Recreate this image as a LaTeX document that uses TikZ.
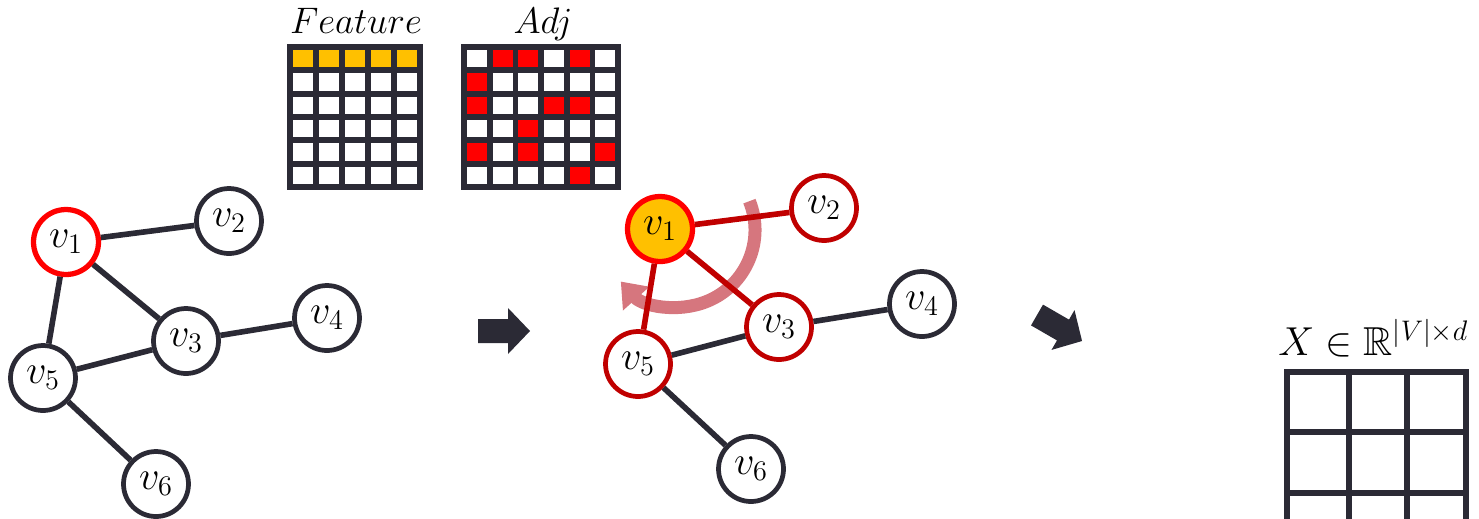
\RequirePackage{fix-cm}
\documentclass[tikz,border=0pt]{standalone}
\usepackage{amssymb}
\usetikzlibrary{arrows.meta}

\definecolor{ink}{RGB}{43,42,53}
\definecolor{hotred}{RGB}{255,0,0}
\definecolor{deepred}{RGB}{192,0,0}
\definecolor{amber}{RGB}{255,192,0}
\definecolor{swirl}{RGB}{214,118,126}

\begin{document}
\begin{tikzpicture}[x=0.02cm, y=-0.02cm,
            vtx/.style = {circle, draw=ink, line width=2.7pt, fill=white,
              minimum size=1.3cm, inner sep=0pt,
              font=\fontsize{23}{23}\selectfont},
            hub/.style = {vtx, draw=hotred, line width=3pt},
            nbr/.style = {vtx, draw=deepred},
            edge/.style = {draw=ink, line width=3.2pt},
            redge/.style = {edge, draw=deepred},
            title/.style = {anchor=base, font=\fontsize{21}{21}\selectfont}]
  \useasboundingbox (0,0) rectangle (1479,518);
  \clip (0,0) rectangle (1479,518);

  % feature matrix
  \node[title] (feat) at (356,33) {$Feature$};
  \fill[ink] (287,44) rectangle (423,190);
  \foreach \i in {0,...,4}
    \foreach \j in {0,...,5}
      \fill[white] ({293+26*\i},{50+23.33*\j}) rectangle +(20,17.3);
  \foreach \i in {0,...,4}
    \fill[amber] ({293+26*\i},50) rectangle +(20,17.3);

  % adjacency matrix
  \node[title] (adj) at (543,33) {$Adj$};
  \fill[ink] (461,44) rectangle (621,190);
  \foreach \i in {0,...,5}
    \foreach \j in {0,...,5}
      \fill[white] ({467+25.67*\i},{50+23.33*\j}) rectangle +(20,17.3);
  \foreach \c/\r in {2/1,3/1,5/1,1/2,1/3,4/3,5/3,3/4,1/5,3/5,6/5,5/6}
    \fill[hotred] ({467+25.67*(\c-1)},{50+23.33*(\r-1)}) rectangle +(20,17.3);

  % input graph
  \node[hub] (a1) at (66,242) {$v_1$};
  \node[vtx] (a2) at (229,221) {$v_2$};
  \node[vtx] (a3) at (186,341) {$v_3$};
  \node[vtx] (a4) at (327,318) {$v_4$};
  \node[vtx] (a5) at (43,378) {$v_5$};
  \node[vtx] (a6) at (156,484) {$v_6$};
  \draw[edge] (a1) -- (a2);
  \draw[edge] (a1) -- (a3);
  \draw[edge] (a1) -- (a5);
  \draw[edge] (a5) -- (a3);
  \draw[edge] (a3) -- (a4);
  \draw[edge] (a5) -- (a6);

  % block arrows
  \fill[ink] (478,331) -- ++(0,-12) -- ++(30,0) -- ++(0,-11) -- (530,331)
    -- (508,354) -- ++(0,-11) -- (478,343) -- cycle;
  \begin{scope}[shift={(1037,315)}, rotate=-30]
    \fill[ink] (0,-12) -- (30,-12) -- (30,-23) -- (52,0) -- (30,23)
      -- (30,12) -- (0,12) -- cycle;
  \end{scope}

  % aggregation around v1
  \draw[swirl, line width=7.4pt, -{Triangle[width=0.68cm,length=0.46cm]}]
    ([shift={(-22:77)}]678,230) arc[start angle=-22, end angle=138, radius=77];

  % neighbourhood graph
  \node[hub, fill=amber] (b1) at (660,229) {$v_1$};
  \node[nbr] (b2) at (824,208) {$v_2$};
  \node[nbr] (b3) at (779,327) {$v_3$};
  \node[vtx] (b4) at (922,304) {$v_4$};
  \node[nbr] (b5) at (638,364) {$v_5$};
  \node[vtx] (b6) at (751,469) {$v_6$};
  \draw[redge] (b1) -- (b2);
  \draw[redge] (b1) -- (b3);
  \draw[redge] (b1) -- (b5);
  \draw[edge] (b5) -- (b3);
  \draw[edge] (b3) -- (b4);
  \draw[edge] (b5) -- (b6);

  % output matrix
  \node[anchor=base west, inner sep=0pt, font=\fontsize{23}{23}\selectfont]
    (xlab) at (1278,355) {$X \in \mathbb{R}^{|V|\times d}$};
  \draw[ink, line width=3.4pt] (1287,372) rectangle (1466,560);
  \draw[ink, line width=3.4pt] (1349,372) -- (1349,560)
    (1407,372) -- (1407,560) (1287,432) -- (1466,432) (1287,493) -- (1466,493);
\end{tikzpicture}
\end{document}
